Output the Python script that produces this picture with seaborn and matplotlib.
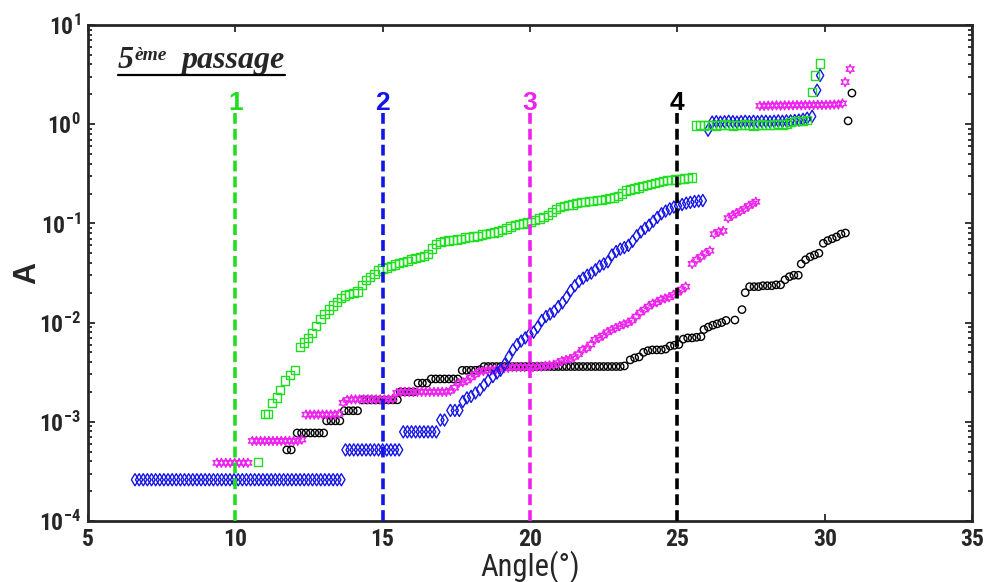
import numpy as np
import pandas as pd
import seaborn as sns
import matplotlib.pyplot as plt
from matplotlib import font_manager
from matplotlib.lines import Line2D

# ---- données (5ème passage) ----
green_x = [10.77, 11.00, 11.12, 11.24, 11.41, 11.52, 11.68, 11.85, 12.02,
           12.19, 12.33, 12.47, 12.61, 12.75, 12.89, 13.03, 13.17, 13.31, 13.45,
           13.59, 13.73, 13.87, 14.01, 14.15, 14.30, 14.44, 14.58, 14.72, 14.86,
           15.00, 15.14, 15.28, 15.42, 15.56, 15.70, 15.84, 15.98, 16.12, 16.26,
           16.40, 16.54, 16.68, 16.82, 16.96, 17.10, 17.24, 17.38, 17.52, 17.66,
           17.80, 17.94, 18.08, 18.22, 18.36, 18.50, 18.64, 18.78, 18.92, 19.06,
           19.20, 19.34, 19.48, 19.62, 19.76, 19.90, 20.04, 20.18, 20.32, 20.46,
           20.60, 20.74, 20.88, 21.02, 21.16, 21.30, 21.44, 21.58, 21.72, 21.86,
           22.00, 22.14, 22.28, 22.42, 22.56, 22.70, 22.84, 22.98, 23.12, 23.26,
           23.40, 23.54, 23.68, 23.82, 23.96, 24.10, 24.24, 24.38, 24.52, 24.66,
           24.80, 24.94, 25.08, 25.22, 25.36, 25.50,
           25.62, 25.76, 25.90, 26.04, 26.18, 26.32, 26.46, 26.60, 26.74, 26.88,
           27.02, 27.16, 27.30, 27.44, 27.58, 27.72, 27.86, 28.00, 28.14, 28.28,
           28.42, 28.56, 28.70, 28.84, 28.98, 29.12, 29.26, 29.40, 29.57, 29.67,
           29.84]
green_y = [3.9e-4, 1.2e-3, 1.2e-3, 1.55e-3, 1.75e-3, 2.1e-3, 2.6e-3, 2.95e-3, 3.3e-3,
           5.7e-3, 6.3e-3, 7.0e-3, 7.9e-3, 9.2e-3, 1.08e-2, 1.22e-2, 1.35e-2, 1.48e-2, 1.61e-2,
           1.78e-2, 1.88e-2, 1.95e-2, 2.0e-2, 2.05e-2, 2.4e-2, 2.7e-2, 2.9e-2, 3.1e-2, 3.35e-2,
           3.5e-2, 3.6e-2, 3.7e-2, 3.85e-2, 4.0e-2, 4.1e-2, 4.2e-2, 4.4e-2, 4.5e-2, 4.6e-2,
           4.7e-2, 4.9e-2, 5.6e-2, 6.2e-2, 6.5e-2, 6.6e-2, 6.7e-2, 6.8e-2, 6.9e-2, 7.0e-2,
           7.2e-2, 7.3e-2, 7.4e-2, 7.5e-2, 7.7e-2, 7.8e-2, 8.0e-2, 8.1e-2, 8.3e-2, 8.6e-2,
           8.9e-2, 9.3e-2, 9.6e-2, 9.8e-2, 1.0e-1, 1.02e-1, 1.04e-1, 1.08e-1, 1.12e-1, 1.16e-1,
           1.21e-1, 1.3e-1, 1.4e-1, 1.47e-1, 1.5e-1, 1.53e-1, 1.55e-1, 1.6e-1, 1.63e-1, 1.65e-1,
           1.67e-1, 1.69e-1, 1.71e-1, 1.73e-1, 1.76e-1, 1.79e-1, 1.82e-1, 1.9e-1, 2.0e-1, 2.15e-1,
           2.2e-1, 2.25e-1, 2.3e-1, 2.38e-1, 2.45e-1, 2.5e-1, 2.55e-1, 2.62e-1, 2.68e-1, 2.72e-1,
           2.75e-1, 2.78e-1, 2.8e-1, 2.83e-1, 2.86e-1, 2.9e-1,
           0.97, 0.98, 0.97, 0.98, 0.98, 0.97, 0.98, 0.99, 0.98, 0.97,
           0.98, 0.98, 0.99, 0.98, 0.97, 0.98, 0.99, 0.98, 0.98, 0.99,
           1.0, 0.99, 1.0, 1.05, 1.07, 1.08, 1.08, 1.1, 2.1, 3.1,
           4.1]

blue_x = [6.60, 6.74, 6.88, 7.02, 7.16, 7.30, 7.44, 7.58, 7.72, 7.86,
          8.00, 8.14, 8.28, 8.42, 8.56, 8.70, 8.84, 8.98, 9.12, 9.26,
          9.40, 9.54, 9.68, 9.82, 9.96, 10.10, 10.24, 10.38, 10.52, 10.66,
          10.80, 10.94, 11.08, 11.22, 11.36, 11.50, 11.64, 11.78, 11.92, 12.06,
          12.20, 12.34, 12.48, 12.62, 12.76, 12.90, 13.04, 13.18, 13.32, 13.46, 13.60,
          13.74, 13.88, 14.02, 14.16, 14.30, 14.44, 14.58, 14.72, 14.86, 15.00,
          15.14, 15.28, 15.42, 15.56,
          15.70, 15.84, 15.98, 16.12, 16.26, 16.40, 16.54, 16.68, 16.82,
          16.96, 17.10, 17.30, 17.45, 17.60, 17.72,
          17.86, 18.00, 18.15, 18.30, 18.44, 18.58, 18.74, 18.88, 19.00, 19.14,
          19.28, 19.42, 19.56, 19.70, 19.84, 19.98, 20.12, 20.26, 20.40, 20.54,
          20.68, 20.82, 20.96, 21.10, 21.24, 21.38, 21.52, 21.66, 21.80, 21.94,
          22.08, 22.22, 22.36, 22.50, 22.64, 22.78, 22.92, 23.06, 23.20, 23.34,
          23.48, 23.62, 23.76, 23.90, 24.04, 24.18, 24.32, 24.46, 24.60, 24.74,
          24.88, 25.02, 25.16, 25.30, 25.44, 25.58, 25.72, 25.86,
          26.04, 26.18, 26.32, 26.46, 26.60, 26.74, 26.88, 27.02, 27.16, 27.30,
          27.44, 27.58, 27.72, 27.86, 28.00, 28.14, 28.28, 28.42, 28.56, 28.70,
          28.84, 28.98, 29.12, 29.26, 29.40, 29.57, 29.74, 29.84]
blue_y = [2.6e-4, 2.6e-4, 2.6e-4, 2.6e-4, 2.6e-4, 2.6e-4, 2.6e-4, 2.6e-4, 2.6e-4, 2.6e-4,
          2.6e-4, 2.6e-4, 2.6e-4, 2.6e-4, 2.6e-4, 2.6e-4, 2.6e-4, 2.6e-4, 2.6e-4, 2.6e-4,
          2.6e-4, 2.6e-4, 2.6e-4, 2.6e-4, 2.6e-4, 2.6e-4, 2.6e-4, 2.6e-4, 2.6e-4, 2.6e-4,
          2.6e-4, 2.6e-4, 2.6e-4, 2.6e-4, 2.6e-4, 2.6e-4, 2.6e-4, 2.6e-4, 2.6e-4, 2.6e-4,
          2.6e-4, 2.6e-4, 2.6e-4, 2.6e-4, 2.6e-4, 2.6e-4, 2.6e-4, 2.6e-4, 2.6e-4, 2.6e-4, 2.6e-4,
          5.2e-4, 5.2e-4, 5.2e-4, 5.2e-4, 5.2e-4, 5.2e-4, 5.2e-4, 5.2e-4, 5.2e-4, 5.2e-4,
          5.2e-4, 5.2e-4, 5.2e-4, 5.2e-4,
          7.9e-4, 7.9e-4, 7.9e-4, 7.9e-4, 7.9e-4, 7.9e-4, 7.9e-4, 7.9e-4, 7.9e-4,
          1.04e-3, 1.04e-3, 1.3e-3, 1.3e-3, 1.3e-3, 1.6e-3,
          1.74e-3, 1.8e-3, 1.95e-3, 2.1e-3, 2.35e-3, 2.6e-3, 2.85e-3, 3.1e-3, 3.3e-3, 3.8e-3,
          4.5e-3, 5.3e-3, 6.0e-3, 6.5e-3, 7.0e-3, 7.6e-3, 8.0e-3, 9.0e-3, 1.05e-2, 1.15e-2,
          1.22e-2, 1.3e-2, 1.45e-2, 1.58e-2, 1.8e-2, 2.1e-2, 2.35e-2, 2.6e-2, 2.8e-2, 3.0e-2,
          3.15e-2, 3.4e-2, 3.7e-2, 3.9e-2, 4.1e-2, 4.8e-2, 5.2e-2, 5.5e-2, 5.7e-2, 6.0e-2,
          6.6e-2, 7.5e-2, 8.2e-2, 8.9e-2, 9.6e-2, 1.05e-1, 1.15e-1, 1.25e-1, 1.33e-1, 1.4e-1,
          1.46e-1, 1.5e-1, 1.55e-1, 1.6e-1, 1.63e-1, 1.66e-1, 1.68e-1, 1.7e-1,
          0.87, 1.05, 1.06, 1.05, 1.06, 1.07, 1.06, 1.05, 1.06, 1.07,
          1.06, 1.07, 1.06, 1.07, 1.07, 1.06, 1.07, 1.08, 1.07, 1.08,
          1.08, 1.09, 1.1, 1.12, 1.15, 1.2, 2.2, 3.1]

magenta_x = [9.38, 9.53, 9.68, 9.83, 9.98, 10.13, 10.28, 10.43,
             10.58, 10.72, 10.86, 11.00, 11.14, 11.28, 11.42, 11.56, 11.70, 11.84,
             11.98, 12.12, 12.26,
             12.40, 12.54, 12.68, 12.82, 12.96, 13.10, 13.24, 13.38, 13.52,
             13.66, 13.80, 13.94, 14.08, 14.22, 14.36, 14.50, 14.64, 14.78, 14.92,
             15.06, 15.20, 15.34,
             15.48, 15.62, 15.76, 15.90, 16.04, 16.18, 16.32, 16.46, 16.60, 16.74,
             16.88, 17.02, 17.16, 17.30, 17.44,
             17.58, 17.72, 17.86, 18.00, 18.14, 18.28, 18.42, 18.56, 18.70, 18.84,
             18.98, 19.12, 19.26, 19.40, 19.54, 19.68, 19.82, 19.96, 20.10, 20.24,
             20.38, 20.52, 20.66, 20.80, 20.94, 21.08, 21.22, 21.36, 21.50, 21.64,
             21.78, 21.92, 22.06, 22.20, 22.34, 22.48, 22.62, 22.76, 22.90, 23.04,
             23.18, 23.32, 23.46, 23.60, 23.74, 23.88, 24.02, 24.16, 24.30, 24.44,
             24.58, 24.72, 24.86, 25.00, 25.14, 25.28,
             25.50, 25.65, 25.80, 25.95, 26.10, 26.25, 26.40, 26.55,
             26.72, 26.86, 27.00, 27.14, 27.28, 27.42, 27.56, 27.66,
             27.80, 27.94, 28.08, 28.22, 28.36, 28.50, 28.64, 28.78, 28.92, 29.06,
             29.20, 29.34, 29.48, 29.62, 29.76, 29.90, 30.04, 30.18, 30.32, 30.46,
             30.60, 30.69, 30.86]
magenta_y = [3.85e-4, 3.85e-4, 3.85e-4, 3.85e-4, 3.85e-4, 3.85e-4, 3.85e-4, 3.85e-4,
             6.4e-4, 6.4e-4, 6.4e-4, 6.4e-4, 6.4e-4, 6.4e-4, 6.4e-4, 6.4e-4, 6.4e-4, 6.4e-4,
             6.4e-4, 6.4e-4, 6.6e-4,
             1.18e-3, 1.18e-3, 1.18e-3, 1.18e-3, 1.18e-3, 1.18e-3, 1.18e-3, 1.18e-3, 1.2e-3,
             1.55e-3, 1.66e-3, 1.68e-3, 1.68e-3, 1.68e-3, 1.68e-3, 1.68e-3, 1.68e-3, 1.68e-3, 1.68e-3,
             1.68e-3, 1.68e-3, 1.7e-3,
             1.95e-3, 2.0e-3, 2.0e-3, 2.0e-3, 2.0e-3, 2.0e-3, 2.0e-3, 2.0e-3, 2.0e-3, 2.0e-3,
             2.0e-3, 2.0e-3, 2.0e-3, 2.05e-3, 2.2e-3,
             2.45e-3, 2.5e-3, 2.6e-3, 2.8e-3, 3.0e-3, 3.2e-3, 3.25e-3, 3.3e-3, 3.3e-3, 3.35e-3,
             3.4e-3, 3.45e-3, 3.5e-3, 3.55e-3, 3.55e-3, 3.55e-3, 3.55e-3, 3.55e-3, 3.55e-3, 3.6e-3,
             3.6e-3, 3.65e-3, 3.7e-3, 3.75e-3, 3.9e-3, 4.1e-3, 4.2e-3, 4.3e-3, 4.5e-3, 4.8e-3,
             5.3e-3, 5.5e-3, 6.0e-3, 6.7e-3, 7.0e-3, 7.4e-3, 8.0e-3, 8.4e-3, 8.8e-3, 9.2e-3,
             9.6e-3, 9.9e-3, 1.05e-2, 1.15e-2, 1.26e-2, 1.35e-2, 1.45e-2, 1.55e-2, 1.6e-2, 1.7e-2,
             1.75e-2, 1.8e-2, 1.9e-2, 2.0e-2, 2.15e-2, 2.3e-2,
             3.9e-2, 4.3e-2, 4.6e-2, 5.0e-2, 5.3e-2, 7.8e-2, 8.2e-2, 8.4e-2,
             1.13e-1, 1.2e-1, 1.27e-1, 1.33e-1, 1.4e-1, 1.5e-1, 1.58e-1, 1.65e-1,
             1.53, 1.53, 1.54, 1.54, 1.55, 1.54, 1.55, 1.55, 1.55, 1.56,
             1.55, 1.56, 1.56, 1.56, 1.57, 1.56, 1.57, 1.57, 1.58, 1.58,
             1.62, 2.66, 3.6]

black_x = [11.75, 11.90,
           12.10, 12.25, 12.40, 12.55, 12.70, 12.85, 13.00,
           13.10, 13.25, 13.40, 13.55,
           13.70, 13.85, 14.00, 14.15,
           14.30, 14.45, 14.60, 14.75, 14.90, 15.05, 15.20, 15.35, 15.50,
           15.60, 15.75, 15.90, 16.05,
           16.20, 16.35, 16.50,
           16.65, 16.80, 16.95, 17.10, 17.25, 17.40, 17.55,
           17.70, 17.85, 18.00, 18.15, 18.30,
           18.44, 18.58, 18.72, 18.86, 19.00, 19.14, 19.28, 19.42, 19.56, 19.70,
           19.84, 19.98, 20.12, 20.26, 20.40, 20.54, 20.68, 20.82, 20.96, 21.10,
           21.24, 21.38, 21.52, 21.66, 21.80, 21.94, 22.08, 22.22, 22.36, 22.50,
           22.64, 22.78, 22.92, 23.06, 23.20,
           23.40, 23.55, 23.70,
           23.85, 24.00, 24.15, 24.30, 24.45, 24.60,
           24.75, 24.90, 25.05,
           25.20, 25.35, 25.50, 25.65, 25.80,
           25.90, 26.05, 26.20, 26.35, 26.50, 26.65,
           26.95, 27.19,
           27.30, 27.45, 27.60, 27.75, 27.90, 28.05, 28.20, 28.35, 28.50,
           28.65, 28.80, 28.95, 29.10,
           29.20, 29.35, 29.50, 29.65, 29.80,
           29.95, 30.10, 30.25, 30.40, 30.55, 30.70,
           30.79, 30.92]
black_y = [5.2e-4, 5.2e-4,
           7.7e-4, 7.7e-4, 7.7e-4, 7.7e-4, 7.7e-4, 7.7e-4, 7.7e-4,
           1.02e-3, 1.02e-3, 1.02e-3, 1.02e-3,
           1.29e-3, 1.29e-3, 1.29e-3, 1.29e-3,
           1.66e-3, 1.66e-3, 1.66e-3, 1.66e-3, 1.66e-3, 1.66e-3, 1.66e-3, 1.66e-3, 1.66e-3,
           2.0e-3, 2.0e-3, 2.0e-3, 2.0e-3,
           2.45e-3, 2.45e-3, 2.45e-3,
           2.7e-3, 2.7e-3, 2.7e-3, 2.7e-3, 2.7e-3, 2.7e-3, 2.7e-3,
           3.3e-3, 3.3e-3, 3.3e-3, 3.3e-3, 3.35e-3,
           3.6e-3, 3.6e-3, 3.6e-3, 3.6e-3, 3.6e-3, 3.6e-3, 3.6e-3, 3.6e-3, 3.6e-3, 3.6e-3,
           3.6e-3, 3.6e-3, 3.6e-3, 3.6e-3, 3.6e-3, 3.6e-3, 3.6e-3, 3.6e-3, 3.6e-3, 3.6e-3,
           3.6e-3, 3.6e-3, 3.6e-3, 3.6e-3, 3.6e-3, 3.6e-3, 3.6e-3, 3.6e-3, 3.6e-3, 3.6e-3,
           3.6e-3, 3.6e-3, 3.6e-3, 3.6e-3, 3.65e-3,
           4.2e-3, 4.4e-3, 4.5e-3,
           5.0e-3, 5.2e-3, 5.3e-3, 5.3e-3, 5.3e-3, 5.4e-3,
           5.8e-3, 5.9e-3, 6.0e-3,
           6.8e-3, 7.0e-3, 7.0e-3, 7.1e-3, 7.2e-3,
           8.5e-3, 9.0e-3, 9.4e-3, 9.7e-3, 1.0e-2, 1.05e-2,
           1.06e-2, 1.35e-2,
           2.0e-2, 2.3e-2, 2.3e-2, 2.3e-2, 2.35e-2, 2.35e-2, 2.35e-2, 2.4e-2, 2.4e-2,
           2.7e-2, 2.9e-2, 3.0e-2, 3.0e-2,
           3.9e-2, 4.3e-2, 4.6e-2, 4.8e-2, 5.0e-2,
           6.3e-2, 6.7e-2, 7.0e-2, 7.3e-2, 7.8e-2, 8.0e-2,
           1.08, 2.06]

line_x = [10, 15, 20, 25]
line_labels = ['1', '2', '3', '4']
line_colors = ['#22dd22', '#1414e6', '#ee22ee', 'black']
line_top = 1.3
label_y = 1.4

xticks = [5, 10, 15, 20, 25, 30, 35]
yticks = [1e-4, 1e-3, 1e-2, 1e-1, 1e0, 1e1]
ytick_labels = [r'$\mathbf{10^{-4}}$', r'$\mathbf{10^{-3}}$', r'$\mathbf{10^{-2}}$',
                r'$\mathbf{10^{-1}}$', r'$\mathbf{10^{0}}$', r'$\mathbf{10^{1}}$']

# ---- style ----
sns.set_style('ticks')

# police étroite si disponible (style Arial Narrow de MATLAB)
stretch = 'normal'
narrow = 'Liberation Sans'
names = {f.name for f in font_manager.fontManager.ttflist}
for cand in ['Liberation Sans Narrow', 'Roboto Condensed', 'Open Sans Condensed']:
    if cand in names:
        narrow = cand
        break
else:
    cond = [f for f in font_manager.fontManager.ttflist
            if str(f.stretch) in ('condensed', 'semi-condensed', '75', '87.5')]
    cond = [f for f in cond if 'Sans' in f.name and 'Mono' not in f.name and 'CJK' not in f.name]
    if cond:
        narrow = cond[0].name
        stretch = 'condensed'

plt.rcParams['font.family'] = [narrow, 'DejaVu Sans']
plt.rcParams['font.stretch'] = stretch
plt.rcParams['mathtext.fontset'] = 'custom'
plt.rcParams['mathtext.bf'] = narrow + ':bold'
plt.rcParams['mathtext.rm'] = narrow

fig = plt.figure(figsize=(9.87, 5.82), dpi=100)
ax = fig.add_axes([0.089, 0.105, 0.896, 0.852])

series = [
    (black_x, black_y, 'o', 28, 'black'),
    (magenta_x, magenta_y, (6, 1, 0), 42, '#ee22ee'),
    (blue_x, blue_y, 'd', 38, '#1414e6'),
    (green_x, green_y, 's', 36, '#22dd22'),
]
for xs, ys, mk, sz, col in series:
    df = pd.DataFrame({'Angle': xs, 'A': ys})
    sns.scatterplot(data=df, x='Angle', y='A', marker=mk, s=sz, color=col,
                    facecolor='none', edgecolor=col, linewidth=1.0, ax=ax, zorder=3)

# lignes verticales en tirets + numéros
for lx, lab, col in zip(line_x, line_labels, line_colors):
    ax.vlines(lx, 1e-4, line_top, colors=col, linestyles=(0, (3, 1.4)), linewidth=2.6, zorder=4)
    ax.text(lx, label_y, lab, color=col, fontsize=19, fontweight='bold',
            ha='center', va='baseline', family=['Liberation Sans', 'DejaVu Sans'],
            fontstretch='normal')

ax.set_yscale('log')
ax.set_xlim(5, 35)
ax.set_ylim(1e-4, 10)
ax.set_xticks(xticks)
ax.set_xticklabels([str(t) for t in xticks], fontsize=17, fontweight='bold')
ax.set_yticks(yticks)
ax.set_yticklabels(ytick_labels, fontsize=17)
ax.tick_params(which='both', direction='in', top=True, right=True, width=1.3)
ax.tick_params(which='major', length=5)
ax.tick_params(which='minor', length=3)
ax.tick_params(axis='x', which='minor', bottom=False, top=False)
ax.tick_params(axis='y', pad=5)
ax.tick_params(axis='x', pad=5)
ax.grid(False)
for sp in ax.spines.values():
    sp.set_linewidth(2)
    sp.set_visible(True)

ax.set_xlabel('Angle(°)', fontsize=22, labelpad=0)
ax.set_ylabel('A', fontsize=22, fontweight='bold', family=['Liberation Sans', 'DejaVu Sans'],
              fontstretch='normal', labelpad=-2)

# titre "5ème passage" souligné
title_font = dict(family=['Liberation Serif', 'DejaVu Serif'], fontweight='bold',
                  fontstyle='italic', fontstretch='normal')
t1 = ax.text(0.034, 0.913, '5', transform=ax.transAxes, fontsize=23, va='baseline', **title_font)
fig.canvas.draw()
r = fig.canvas.get_renderer()
bb1 = t1.get_window_extent(r)
x0, base = ax.transAxes.transform((0.034, 0.913))
t2 = ax.annotate('ème', xy=(bb1.x1 + 1, base + 8), xycoords='figure pixels',
                 fontsize=14, va='baseline', ha='left', **title_font)
fig.canvas.draw()
bb2 = t2.get_window_extent(r)
t3 = ax.annotate('passage', xy=(bb2.x1 + 14, base), xycoords='figure pixels',
                 fontsize=23, va='baseline', ha='left', **title_font)
fig.canvas.draw()
bb3 = t3.get_window_extent(r)
W, H = fig.bbox.width, fig.bbox.height
fig.add_artist(Line2D([bb1.x0 / W, bb3.x1 / W], [(base - 7) / H, (base - 7) / H],
                      transform=fig.transFigure, color='black', linewidth=1.6))

fig.savefig('out.png', dpi=100)
